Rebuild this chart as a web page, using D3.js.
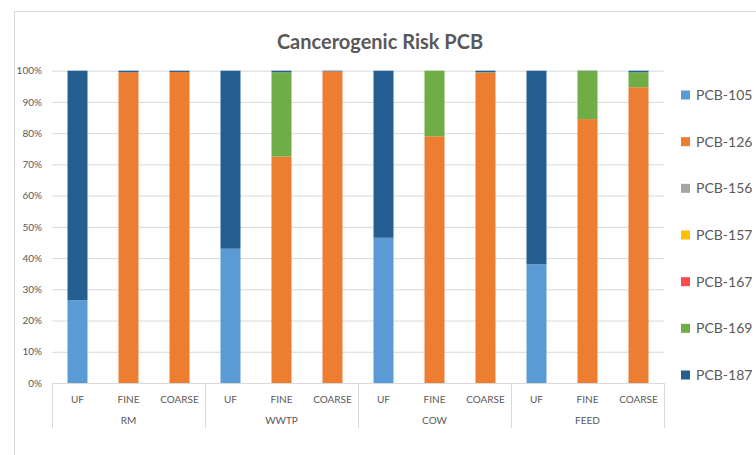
<!DOCTYPE html>
<html>
<head>
<meta charset="utf-8">
<script src="https://cdn.jsdelivr.net/npm/d3@7"></script>
<style>
  html, body { margin: 0; padding: 0; background: #fff; }
  svg { display: block; font-family: Lato, "Open Sans", sans-serif; }
</style>
</head>
<body>
<svg id="chart" width="756" height="455"></svg>
<script>
// Sample fractions (UF / FINE / COARSE) for each source
const groups = ["RM", "WWTP", "COW", "FEED"];
const fractions = ["UF", "FINE", "COARSE"];

// Share of cancerogenic risk (%) per congener, one value per bar
const seriesNames = ["PCB-105", "PCB-126", "PCB-156", "PCB-157", "PCB-167", "PCB-169", "PCB-187"];
const pcb105 = [26.5, 0, 0,   43, 0, 0,      46.5, 0, 0,     38, 0, 0];
const pcb126 = [0, 99.5, 99.6, 0, 72.5, 99.8, 0, 79, 99.4,   0, 84.5, 94.7];
const pcb156 = [0, 0, 0,      0, 0, 0,       0, 0, 0,        0, 0, 0];
const pcb157 = [0, 0, 0,      0, 0, 0,       0, 0, 0,        0, 0, 0];
const pcb167 = [0, 0, 0,      0, 0, 0,       0, 0, 0,        0, 0, 0];
const pcb169 = [0, 0, 0,      0, 27, 0,      0, 21, 0.1,     0, 15.4, 4.8];
const pcb187 = [73.5, 0.5, 0.4, 57, 0.5, 0.2, 53.5, 0, 0.5,  62, 0.1, 0.5];

const yTicks = [0, 0.1, 0.2, 0.3, 0.4, 0.5, 0.6, 0.7, 0.8, 0.9, 1];
const colors = ["#5b9bd5", "#ed7d31", "#a5a5a5", "#ffc000", "#ff4b4b", "#70ad47", "#255e91"];
const title = "Cancerogenic Risk PCB";

const seriesValues = [pcb105, pcb126, pcb156, pcb157, pcb167, pcb169, pcb187];

// One row per bar
const rows = [];
groups.forEach((g, gi) => fractions.forEach((f, fi) => {
  const i = gi * fractions.length + fi;
  const row = { id: i, group: g, fraction: f };
  seriesNames.forEach((s, si) => row[s] = seriesValues[si][i]);
  rows.push(row);
}));

const svg = d3.select("#chart");
const textColor = "#595959";
const gridColor = "#d9d9d9";

// Chart frame
svg.append("rect")
  .attr("x", 14.5).attr("y", 11.5)
  .attr("width", 800).attr("height", 500)
  .attr("fill", "#fff").attr("stroke", "#d9d9d9");

const plot = { left: 52, right: 664, top: 70.7, bottom: 383 };

const x = d3.scaleBand()
  .domain(rows.map(d => d.id))
  .range([plot.left, plot.right])
  .paddingInner(0.608)
  .paddingOuter(0.304);

const y = d3.scaleLinear().domain([0, 1]).range([plot.bottom, plot.top]);

// Horizontal gridlines and percentage labels
const yAxis = d3.axisLeft(y)
  .tickValues(yTicks)
  .tickFormat(d3.format(".0%"))
  .tickSize(-(plot.right - plot.left))
  .tickPadding(10);

const yg = svg.append("g")
  .attr("transform", `translate(${plot.left},0)`)
  .call(yAxis);
yg.select(".domain").remove();
yg.selectAll(".tick line").attr("stroke", gridColor).attr("stroke-width", 1);
yg.selectAll(".tick text")
  .attr("fill", textColor)
  .attr("font-size", 10)
  .attr("font-family", "Lato, sans-serif");

// Stacked 100% bars
const stack = d3.stack().keys(seriesNames).offset(d3.stackOffsetExpand);
const layers = stack(rows);

svg.append("g")
  .selectAll("g")
  .data(layers)
  .join("g")
  .attr("fill", (d, i) => colors[i])
  .selectAll("rect")
  .data(d => d)
  .join("rect")
  .attr("x", d => x(d.data.id))
  .attr("width", x.bandwidth())
  .attr("y", d => y(d[1]))
  .attr("height", d => Math.max(0, y(d[0]) - y(d[1])));

// Multi-level category axis
const axisBottom = 428;
const xa = svg.append("g");
const step = x.step();
const groupWidth = step * fractions.length;

groups.forEach((g, gi) => {
  const gx0 = plot.left + gi * groupWidth;
  xa.append("line")
    .attr("x1", gx0 + 0.5).attr("x2", gx0 + 0.5)
    .attr("y1", plot.bottom).attr("y2", axisBottom)
    .attr("stroke", gridColor);
  xa.append("text")
    .attr("x", gx0 + groupWidth / 2)
    .attr("y", 424)
    .attr("text-anchor", "middle")
    .attr("font-size", 10)
    .attr("fill", textColor)
    .text(g);
});
xa.append("line")
  .attr("x1", plot.right + 0.5).attr("x2", plot.right + 0.5)
  .attr("y1", plot.bottom).attr("y2", axisBottom)
  .attr("stroke", gridColor);

xa.selectAll("text.cat")
  .data(rows)
  .join("text")
  .attr("class", "cat")
  .attr("x", d => x(d.id) + x.bandwidth() / 2)
  .attr("y", 403)
  .attr("text-anchor", "middle")
  .attr("font-size", 10)
  .attr("fill", textColor)
  .text(d => d.fraction);

// Title
svg.append("text")
  .attr("x", 380)
  .attr("y", 49)
  .attr("text-anchor", "middle")
  .attr("font-size", 20)
  .attr("font-weight", "bold")
  .attr("fill", textColor)
  .text(title);

// Legend
const legend = svg.append("g");
const legY = d3.scalePoint().domain(seriesNames).range([95, 375]);
seriesNames.forEach((s, i) => {
  const ly = legY(s);
  legend.append("rect")
    .attr("x", 681).attr("y", ly - 4.5)
    .attr("width", 9).attr("height", 9)
    .attr("fill", colors[i]);
  legend.append("text")
    .attr("x", 696).attr("y", ly + 5)
    .attr("font-size", 14)
    .attr("fill", textColor)
    .text(s);
});
</script>
</body>
</html>
